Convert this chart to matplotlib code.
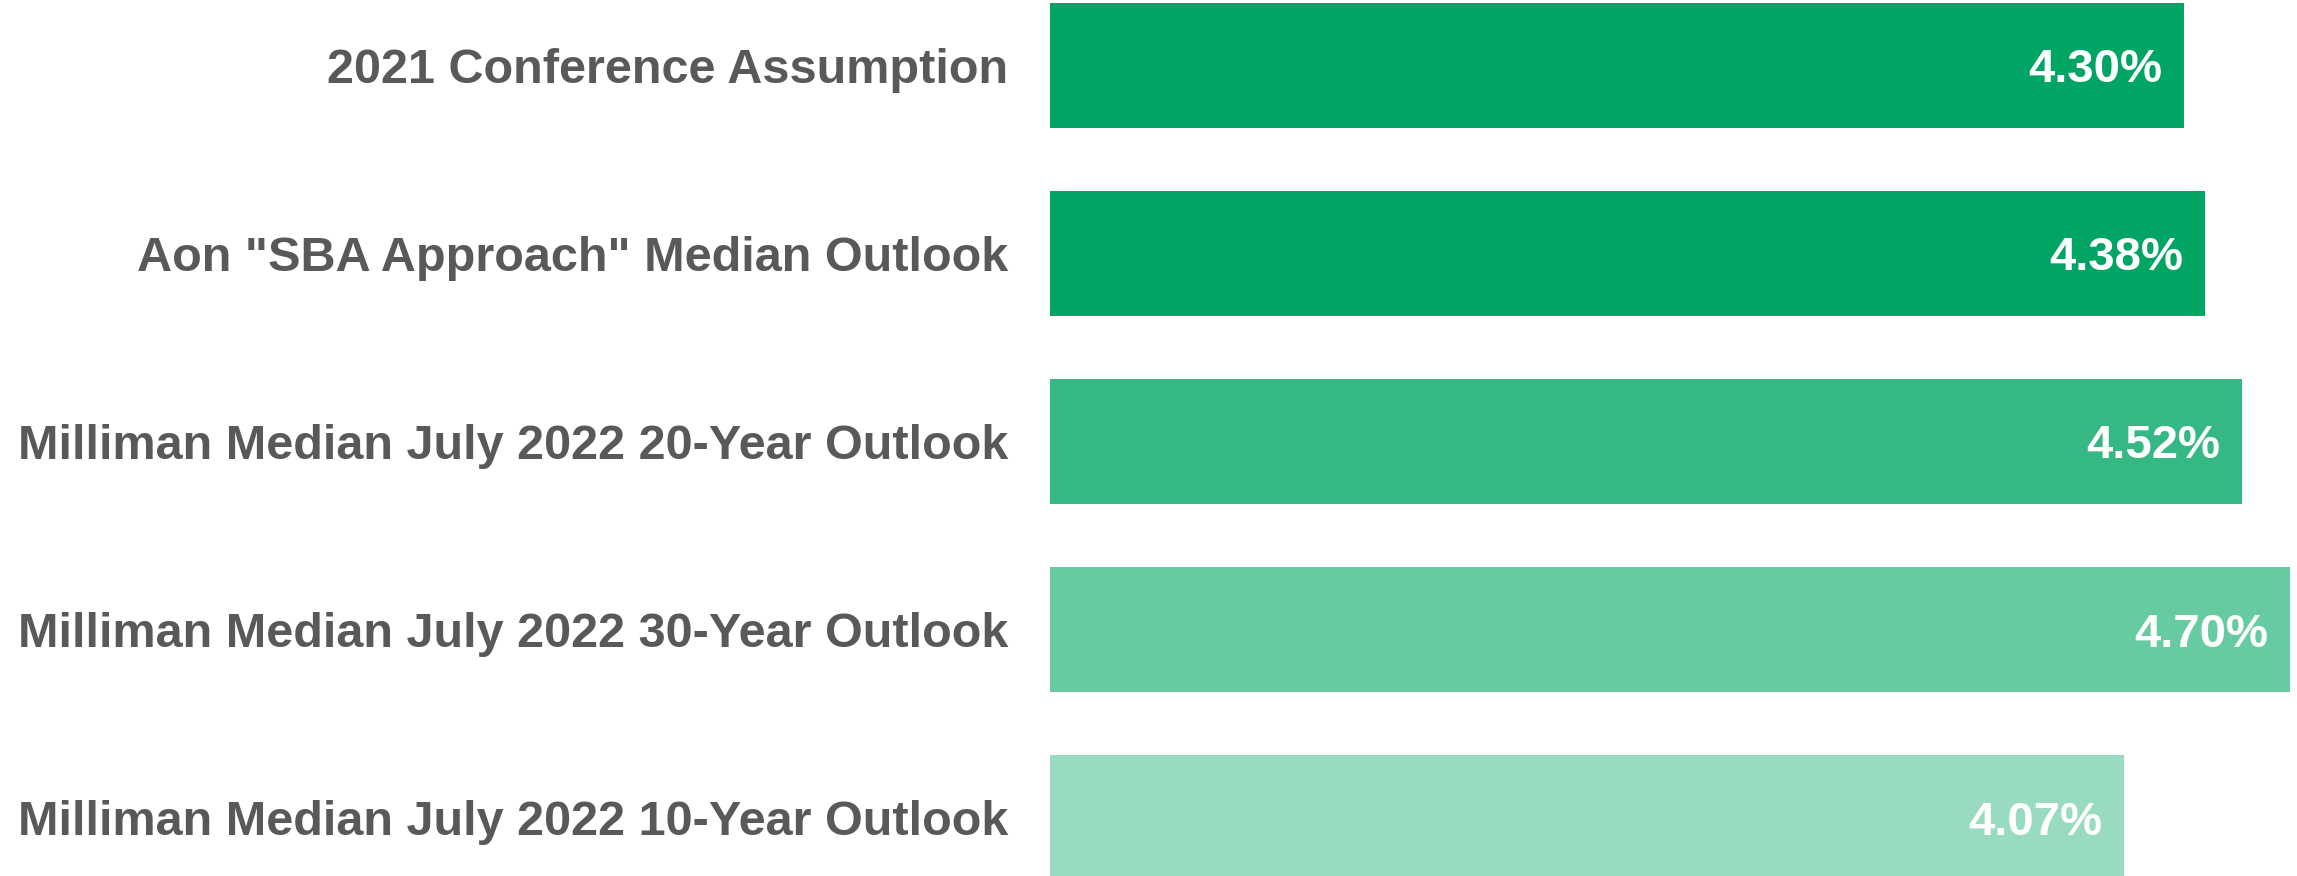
import matplotlib.pyplot as plt

plt.rcParams["font.family"] = ["Liberation Sans", "DejaVu Sans"]

categories = [
    "2021 Conference Assumption",
    'Aon "SBA Approach" Median Outlook',
    "Milliman Median July 2022 20-Year Outlook",
    "Milliman Median July 2022 30-Year Outlook",
    "Milliman Median July 2022 10-Year Outlook",
]
values = [4.30, 4.38, 4.52, 4.70, 4.07]
colors = ["#00A564", "#00A564", "#35B884", "#66CBA0", "#99DBC1"]

W, H, DPI = 2297, 876, 100
fig = plt.figure(figsize=(W / DPI, H / DPI), dpi=DPI)
ax = fig.add_axes([1050 / W, 0, 1 - 1050 / W, 1])

y = list(range(len(categories)))
bars = ax.barh(y, values, height=0.665, color=colors)
ax.set_xlim(0, (W - 1050) / 263.8)
ax.set_ylim(4.311, -0.348)

ax.set_yticks(y)
ax.set_yticklabels(categories, fontsize=35, fontweight="bold", color="#595959")
ax.tick_params(axis="y", length=0, pad=30)
ax.set_xticks([])
for side in ax.spines.values():
    side.set_visible(False)

for bar, v in zip(bars, values):
    ax.text(bar.get_width() - 0.083, bar.get_y() + bar.get_height() / 2, f"{v:.2f}%",
            ha="right", va="center_baseline", fontsize=34, fontweight="bold", color="white")

fig.savefig("out.png", dpi=DPI)
